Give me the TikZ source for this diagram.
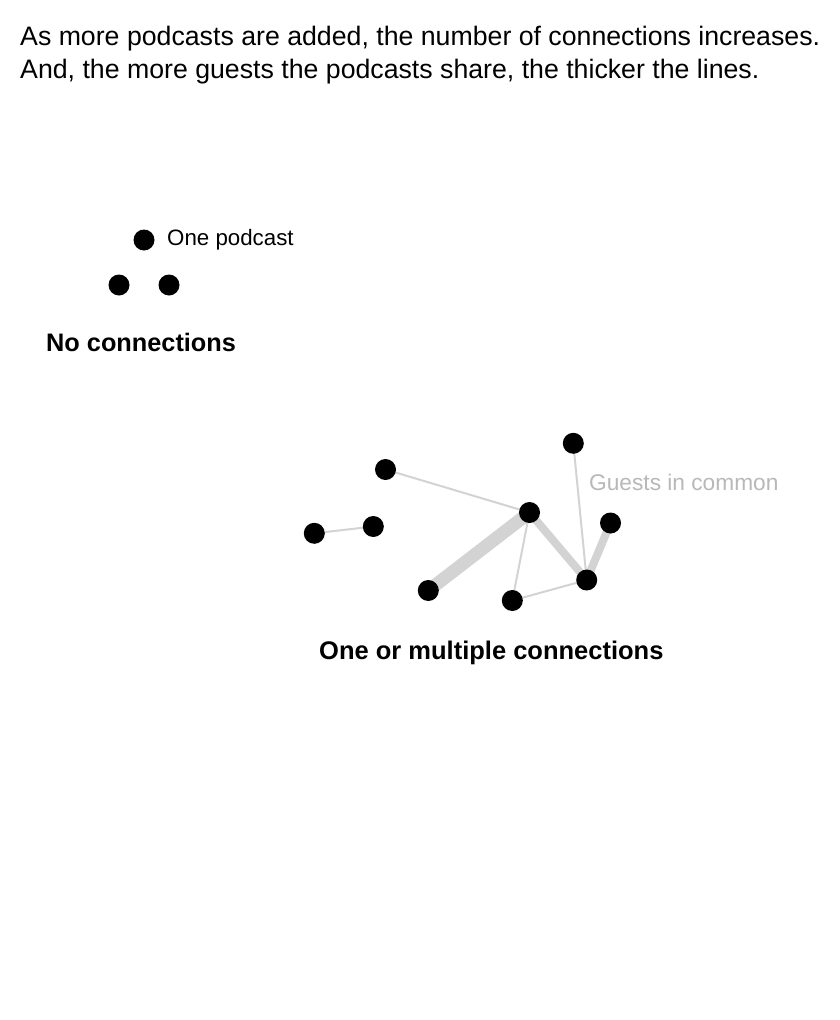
\documentclass[tikz,border=0pt]{standalone}
\usepackage{fontspec}
\setmainfont{Liberation Sans}
\usetikzlibrary{backgrounds}
\definecolor{edgegray}{HTML}{D3D3D3}
\definecolor{labelgray}{HTML}{B8B8B8}
\tikzset{
  pod/.style={circle, fill=black, draw=none, inner sep=0pt, minimum size=21pt},
  txt/.style={anchor=base west, inner sep=0pt},
  thinedge/.style={draw=edgegray, line width=2pt},
  midedge/.style={draw=edgegray, line width=8pt},
  thickedge/.style={draw=edgegray, line width=13pt},
}
\begin{document}
\begin{tikzpicture}[x=1pt, y=-1pt]
\useasboundingbox (0,0) rectangle (840,1020);
% header
\node[txt] (h1) at (20,45) {\fontsize{26.7}{30}\selectfont As more podcasts are added, the number of connections increases.};
\node[txt] (h2) at (20,78) {\fontsize{26.7}{30}\selectfont And, the more guests the podcasts share, the thicker the lines.};
% no connections
\node[pod] (p1) at (144,240) {};
\node[pod] (p2) at (119,285) {};
\node[pod] (p3) at (169,285) {};
\node[txt] (l1) at (167,245) {\fontsize{22.3}{26}\selectfont One podcast};
\node[txt] (t1) at (46,351) {\fontsize{25.3}{30}\selectfont\bfseries No connections};
% network
\node[pod] (a) at (385.5,469.5) {};
\node[pod] (b) at (573.3,443.3) {};
\node[pod] (c) at (529.5,512.5) {};
\node[pod] (d) at (610.5,523) {};
\node[pod] (e) at (586.7,580) {};
\node[pod] (f) at (512.3,600.5) {};
\node[pod] (g) at (428.3,590.5) {};
\node[pod] (h) at (373.3,526.5) {};
\node[pod] (i) at (314.3,533.3) {};
\begin{scope}[on background layer]
\draw[thickedge] (g.center) -- (c.center);
\draw[midedge] (c.center) -- (e.center);
\draw[midedge] (d.center) -- (e.center);
\draw[thinedge] (a.center) -- (c.center);
\draw[thinedge] (i.center) -- (h.center);
\draw[thinedge] (c.center) -- (f.center);
\draw[thinedge] (b.center) -- (e.center);
\draw[thinedge] (f.center) -- (e.center);
\end{scope}
\node[txt, text=labelgray] (l2) at (589,490) {\fontsize{22.7}{26}\selectfont Guests in common};
\node[txt] (t2) at (319,659) {\fontsize{25.5}{30}\selectfont\bfseries One or multiple connections};
\end{tikzpicture}
\end{document}
